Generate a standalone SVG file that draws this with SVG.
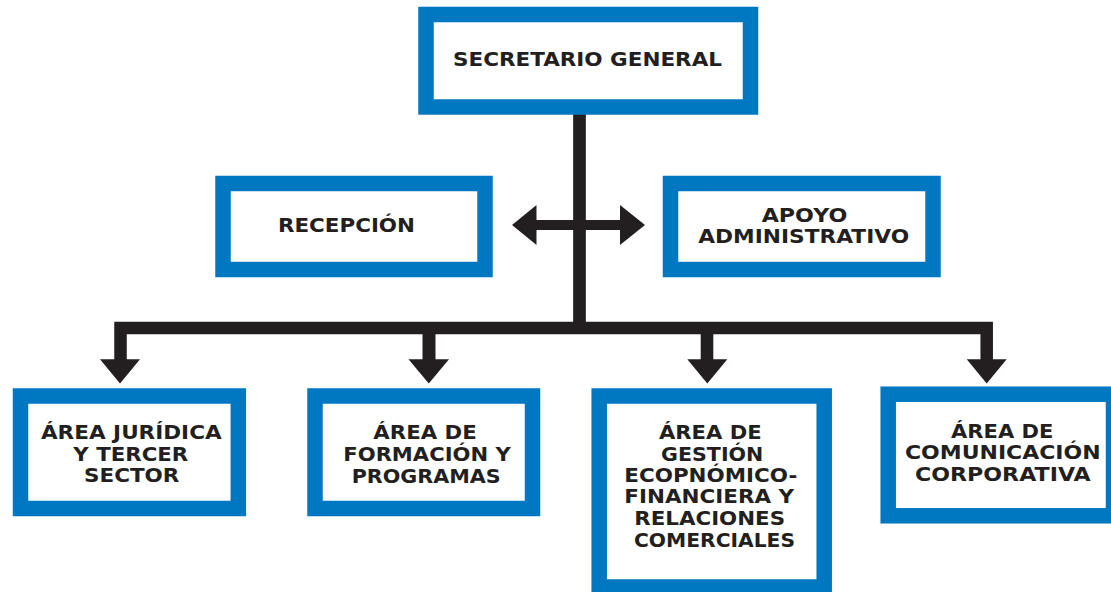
<svg xmlns="http://www.w3.org/2000/svg" width="1111" height="592" viewBox="0 0 1111 592">
  <style>
    .box { fill: #ffffff; stroke: #0078c1; stroke-width: 15.5; }
    .lbl { font-family: "DejaVu Sans", "Open Sans", sans-serif; font-weight: bold; font-size: 19.5px; fill: #231f20; text-anchor: middle; }
    .line { fill: none; stroke: #231f20; stroke-linejoin: miter; }
    .head { fill: #231f20; }
  </style>
  <rect width="1111" height="592" fill="#ffffff"/>

  <g id="connectors">
    <path class="line" d="M579.5,112 V334" stroke-width="12.7"/>
    <path class="line" d="M120.5,360 V328 H986.7 V360" stroke-width="12.5"/>
    <path class="line" d="M429,328 V360" stroke-width="13"/>
    <path class="line" d="M707,328 V360" stroke-width="12.6"/>
    <path class="line" d="M535,225 H621" stroke-width="10"/>
    <polygon class="head" points="512,225 536.5,205 536.5,245"/>
    <polygon class="head" points="645,225 620,205 620,245"/>
    <polygon class="head" points="100,359.3 140,359.3 120,383.5"/>
    <polygon class="head" points="408.5,359.3 449,359.3 428.8,383.5"/>
    <polygon class="head" points="687.3,359.3 727.3,359.3 707.3,383.5"/>
    <polygon class="head" points="966.7,359.3 1006.7,359.3 986.7,383.5"/>
  </g>

  <g id="secretario">
    <rect class="box" x="426" y="14.5" width="324.5" height="92.5"/>
    <text class="lbl" x="587.5" y="66" font-size="20.5" textLength="269" lengthAdjust="spacingAndGlyphs">SECRETARIO GENERAL</text>
  </g>

  <g id="recepcion">
    <rect class="box" x="223" y="183.5" width="262" height="86"/>
    <text class="lbl" x="346.5" y="231.7" textLength="137" lengthAdjust="spacingAndGlyphs">RECEPCIÓN</text>
  </g>

  <g id="apoyo">
    <rect class="box" x="670.5" y="183.5" width="262.5" height="86"/>
    <text class="lbl" x="804.5" y="222.3" textLength="85.6" lengthAdjust="spacingAndGlyphs">APOYO</text>
    <text class="lbl" x="803.7" y="243.3" textLength="211" lengthAdjust="spacingAndGlyphs">ADMINISTRATIVO</text>
  </g>

  <g id="juridica">
    <rect class="box" x="20.5" y="396" width="217.8" height="112.5"/>
    <text class="lbl" x="131.3" y="439.3" textLength="180.7" lengthAdjust="spacingAndGlyphs">ÁREA JURÍDICA</text>
    <text class="lbl" x="130.8" y="461" textLength="115" lengthAdjust="spacingAndGlyphs">Y TERCER</text>
    <text class="lbl" x="131.7" y="482.3" textLength="95.3" lengthAdjust="spacingAndGlyphs">SECTOR</text>
  </g>

  <g id="formacion">
    <rect class="box" x="315" y="396" width="217.5" height="112.5"/>
    <text class="lbl" x="425" y="439.3" textLength="103.4" lengthAdjust="spacingAndGlyphs">ÁREA DE</text>
    <text class="lbl" x="427" y="461" textLength="167.4" lengthAdjust="spacingAndGlyphs">FORMACIÓN Y</text>
    <text class="lbl" x="426.2" y="482.7" textLength="149" lengthAdjust="spacingAndGlyphs">PROGRAMAS</text>
  </g>

  <g id="gestion">
    <rect class="box" x="599.2" y="396" width="225" height="191"/>
    <text class="lbl" x="710.3" y="439.3" textLength="102.7" lengthAdjust="spacingAndGlyphs">ÁREA DE</text>
    <text class="lbl" x="712.2" y="460.5" textLength="102.3" lengthAdjust="spacingAndGlyphs">GESTIÓN</text>
    <text class="lbl" x="710.8" y="481.9" textLength="173" lengthAdjust="spacingAndGlyphs">ECOPNÓMICO-</text>
    <text class="lbl" x="709.2" y="503.4" textLength="169.7" lengthAdjust="spacingAndGlyphs">FINANCIERA Y</text>
    <text class="lbl" x="709.7" y="525" textLength="150.7" lengthAdjust="spacingAndGlyphs">RELACIONES</text>
    <text class="lbl" x="714.5" y="546.7" textLength="161" lengthAdjust="spacingAndGlyphs">COMERCIALES</text>
  </g>

  <g id="comunicacion">
    <rect class="box" x="888.2" y="394.2" width="225.3" height="121.6"/>
    <text class="lbl" x="1002.2" y="437.7" textLength="102.3" lengthAdjust="spacingAndGlyphs">ÁREA DE</text>
    <text class="lbl" x="1002.8" y="459" textLength="195.7" lengthAdjust="spacingAndGlyphs">COMUNICACIÓN</text>
    <text class="lbl" x="1002.8" y="481" textLength="175.7" lengthAdjust="spacingAndGlyphs">CORPORATIVA</text>
  </g>
</svg>
